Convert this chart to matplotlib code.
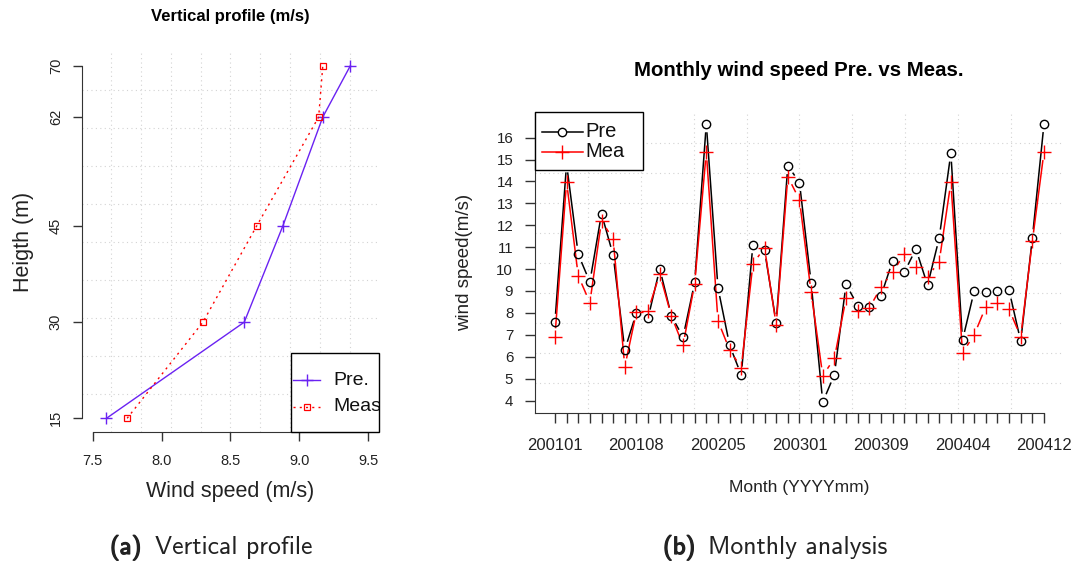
import numpy as np
import matplotlib
matplotlib.use("Agg")
import matplotlib.pyplot as plt
import matplotlib.patheffects as pe
from matplotlib.collections import LineCollection
from matplotlib.patches import Rectangle

plt.rcParams['font.family'] = ['Liberation Sans', 'DejaVu Sans']

# --- datos: perfil vertical ---
heights = [15, 30, 45, 62, 70]
ws_pre = [7.60, 8.60, 8.88, 9.17, 9.37]
ws_meas = [7.75, 8.30, 8.69, 9.14, 9.17]
ws_ticks = [7.5, 8.0, 8.5, 9.0, 9.5]

# --- datos: serie mensual (43 meses con dato) ---
pre = [7.57, 14.80, 10.68, 9.41, 12.53, 10.64, 6.31, 8.01, 7.77, 10.02,
       7.87, 6.89, 9.39, 16.63, 9.15, 6.53, 5.16, 11.11, 10.86, 7.55,
       14.72, 13.95, 9.37, 3.93, 5.18, 9.31, 8.33, 8.25, 8.77, 10.38,
       9.85, 10.92, 9.26, 11.42, 15.29, 6.75, 8.99, 8.94, 8.99, 9.03,
       6.70, 11.43, 16.64]
mea = [6.91, 13.99, 9.70, 8.47, 12.20, 11.37, 5.54, 8.04, 8.10, 9.78,
       7.86, 6.52, 9.33, 15.35, 7.64, 6.31, 5.50, 10.23, 10.98, 7.45,
       14.22, 13.16, 8.94, 5.13, 5.93, 8.67, 8.10, 8.22, 9.17, 9.85,
       10.69, 10.11, 9.65, 10.34, 13.96, 6.18, 6.99, 8.28, 8.44, 8.16,
       6.91, 11.28, 15.36]
month_label_idx = [0, 7, 14, 21, 28, 35, 42]
month_labels = ['200101', '200108', '200205', '200301', '200309', '200404', '200412']
speed_ticks = list(range(4, 17))

PURPLE = '#6a22f2'
GRID = '#d3d3d3'
AXC = '#333333'


def r_range(vals, lo=None, hi=None):
    lo = min(vals) if lo is None else lo
    hi = max(vals) if hi is None else hi
    pad = 0.04 * (hi - lo)
    return lo - pad, hi + pad


def r_grid(ax, n=10):
    x0, x1 = ax.get_xlim()
    y0, y1 = ax.get_ylim()
    for gx in np.linspace(x0, x1, n + 1)[1:-1]:
        ax.axvline(gx, color=GRID, ls=(0, (1, 3)), lw=0.8, zorder=0)
    for gy in np.linspace(y0, y1, n + 1)[1:-1]:
        ax.axhline(gy, color=GRID, ls=(0, (1, 3)), lw=0.8, zorder=0)


def gapped(ax, x, y, gap, **kw):
    # lineas tipo "b" de R: se cortan alrededor de cada punto
    pts = ax.transData.transform(np.column_stack([x, y]))
    inv = ax.transData.inverted()
    segs = []
    for p0, p1 in zip(pts[:-1], pts[1:]):
        d = p1 - p0
        L = np.hypot(*d)
        if L <= 2 * gap:
            continue
        u = d / L
        segs.append(inv.transform([p0 + u * gap, p1 - u * gap]))
    ax.add_collection(LineCollection(segs, **kw))


fig = plt.figure(figsize=(10.8, 5.66), dpi=100)
ax1 = fig.add_axes([0.0756, 0.2360, 0.2756, 0.6728])
ax2 = fig.add_axes([0.4957, 0.2700, 0.4891, 0.5313])

# ---------------- (a) perfil vertical ----------------
ax1.set_xlim(*r_range(ws_ticks))
ax1.set_ylim(*r_range(heights))
r_grid(ax1)
ax1.plot(ws_pre, heights, color=PURPLE, lw=1, marker='+', ms=9, mew=1)
ax1.plot(ws_meas, heights, color='red', lw=1, ls=(0, (1.5, 3)),
         marker='s', mfc='none', ms=5, mew=0.9)

for s in ['top', 'right']:
    ax1.spines[s].set_visible(False)
ax1.spines['left'].set_bounds(min(heights), max(heights))
ax1.spines['bottom'].set_bounds(ws_ticks[0], ws_ticks[-1])
for s in ['left', 'bottom']:
    ax1.spines[s].set_color(AXC)
ax1.set_xticks(ws_ticks, [f'{v:.1f}' for v in ws_ticks])
ax1.set_yticks(heights, [str(h) for h in heights])
ax1.tick_params(axis='both', direction='out', length=6.5, width=1, color=AXC,
                labelsize=10.5, labelcolor='#222222')
ax1.tick_params(axis='x', pad=9)
ax1.tick_params(axis='y', pad=7)
for t in ax1.get_yticklabels():
    t.set_rotation(90)
    t.set_va('center')

ax1.set_xlabel('Wind speed (m/s)', fontsize=15.5, color='#222222', va='center')
ax1.xaxis.set_label_coords(0.5, -0.1557)
ax1.set_ylabel('Heigth (m)', fontsize=15.5, color='#222222', va='center')
ax1.yaxis.set_label_coords(-0.197, 0.5)

# leyenda (cortada en el borde, como en la figura original)
ax1.add_patch(Rectangle((0.702, 0.0), 0.298, 0.2077, transform=ax1.transAxes,
                        fc='white', ec='black', lw=1, zorder=5, clip_on=False))
ax1.plot([0.711, 0.801], [0.1376, 0.1376], transform=ax1.transAxes,
         color=PURPLE, lw=1, zorder=6)
ax1.plot([0.756], [0.1376], transform=ax1.transAxes, color=PURPLE,
         marker='+', ms=9, mew=1, zorder=6)
ax1.plot([0.711, 0.801], [0.0675, 0.0675], transform=ax1.transAxes,
         color='red', lw=1, ls=(0, (1.5, 3)), zorder=6)
ax1.plot([0.756], [0.0675], transform=ax1.transAxes, color='red',
         marker='s', mfc='none', ms=5, mew=0.9, zorder=6)
ax1.text(0.8454, 0.1376, 'Pre.', transform=ax1.transAxes, fontsize=14,
         va='center', ha='left', zorder=7, clip_on=True, color='#111111')
ax1.text(0.8454, 0.0675, 'Meas', transform=ax1.transAxes, fontsize=14,
         va='center', ha='left', zorder=7, clip_on=True, color='#111111')

fig.text(0.2130, 1 - 16 / 566, 'Vertical profile (m/s)', fontsize=12,
         fontweight='bold', ha='center', va='center')

# ---------------- (b) analisis mensual ----------------
idx = np.arange(len(pre))
ax2.set_xlim(*r_range(idx))
ax2.set_ylim(*r_range(pre + mea))
r_grid(ax2)
gapped(ax2, idx, pre, 8.5, colors='black', linewidths=1.1, zorder=2)
ax2.plot(idx, pre, ls='none', marker='o', mfc='none', mec='black', ms=6,
         mew=1, zorder=3)
gapped(ax2, idx, mea, 8.5, colors='red', linewidths=1.1, zorder=2)
ax2.plot(idx, mea, ls='none', marker='+', mec='red', ms=9.5, mew=1, zorder=3)

for s in ['top', 'right']:
    ax2.spines[s].set_visible(False)
ax2.spines['bottom'].set_bounds(ax2.get_xlim()[0], idx[-1])
for s in ['left', 'bottom']:
    ax2.spines[s].set_color(AXC)
ax2.set_xticks(idx)
ax2.set_xticklabels([month_labels[month_label_idx.index(i)]
                     if i in month_label_idx else '' for i in idx])
ax2.set_yticks(speed_ticks, [str(v) for v in speed_ticks])
ax2.tick_params(axis='both', direction='out', length=7, width=1, color=AXC,
                labelcolor='#222222')
ax2.tick_params(axis='x', labelsize=12, pad=11)
ax2.tick_params(axis='y', labelsize=10.8, pad=9)

ax2.set_xlabel('Month (YYYYmm)', fontsize=12.5, color='#222222', va='center')
ax2.xaxis.set_label_coords(0.5, -0.2488)
ax2.set_ylabel('wind speed(m/s)', fontsize=13.5, color='#222222', va='center')
ax2.yaxis.set_label_coords(-0.1333, 0.5)

ax2.add_patch(Rectangle((0.0, 0.8088), 0.2043, 0.1912, transform=ax2.transAxes,
                        fc='white', ec='black', lw=1, zorder=5, clip_on=False))
ax2.plot([0.0119, 0.0907], [0.9362, 0.9362], transform=ax2.transAxes,
         color='black', lw=1.1, zorder=6)
ax2.plot([0.0513], [0.9362], transform=ax2.transAxes, ls='none', marker='o',
         mfc='white', mec='black', ms=6, mew=1, zorder=7)
ax2.plot([0.0119, 0.0907], [0.8697, 0.8697], transform=ax2.transAxes,
         color='red', lw=1.1, zorder=6)
ax2.plot([0.0513], [0.8697], transform=ax2.transAxes, ls='none', marker='+',
         mec='red', ms=9.5, mew=1, zorder=7)
ax2.text(0.0952, 0.9362, 'Pre', transform=ax2.transAxes, fontsize=14.5,
         va='center', ha='left', zorder=7, color='#111111')
ax2.text(0.0952, 0.8697, 'Mea', transform=ax2.transAxes, fontsize=14.5,
         va='center', ha='left', zorder=7, color='#111111')

fig.text(0.7398, 1 - 70 / 566, 'Monthly wind speed Pre. vs Meas.',
         fontsize=14.7, fontweight='bold', ha='center', va='center')

# ---------------- subtitulos ----------------
bold = [pe.withStroke(linewidth=0.9, foreground='#222222')]
fig.text(110 / 1080, 1 - 554 / 566, '(a)', family='cmss10', fontsize=18,
         color='#222222', ha='left', va='baseline', path_effects=bold)
fig.text(155 / 1080, 1 - 554 / 566, 'Vertical profile', family='cmss10',
         fontsize=18.5, color='#222222', ha='left', va='baseline')
fig.text(663 / 1080, 1 - 554 / 566, '(b)', family='cmss10', fontsize=18,
         color='#222222', ha='left', va='baseline', path_effects=bold)
fig.text(708 / 1080, 1 - 554 / 566, 'Monthly analysis', family='cmss10',
         fontsize=18.5, color='#222222', ha='left', va='baseline')

fig.savefig('out.png', dpi=100)
